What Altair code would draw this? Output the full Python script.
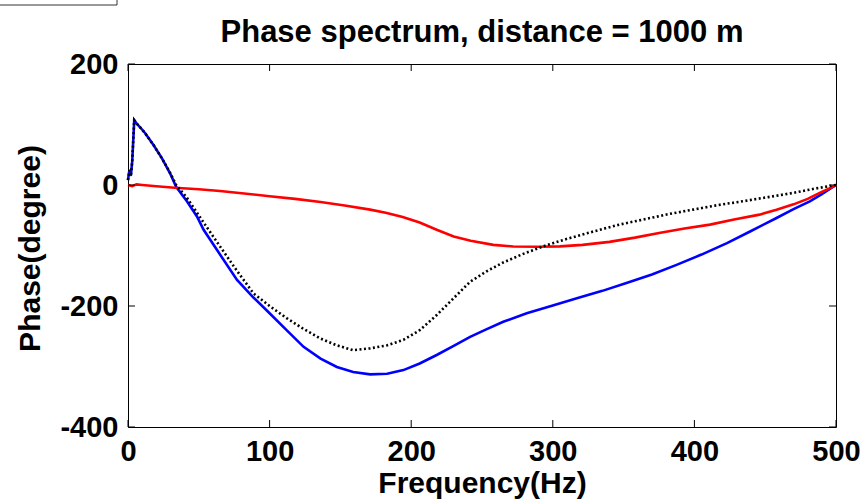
import altair as alt
import pandas as pd

# ---- data ----
freq_blue = [0, 1, 2, 3, 4.4, 6, 8.7, 12, 18, 24, 30, 34, 41.6, 48.7, 53.4, 65, 77, 88.6,
             100, 112, 124, 136, 147.5, 159, 171, 183, 194.5, 206, 218, 230, 241.6, 253,
             265, 281.6, 300, 317, 335, 352, 370, 387.4, 405, 423, 440, 458, 470, 481.5,
             490, 500]
phase_blue = [8, 25, 15, 40, 107, 102, 95, 86, 66, 44, 18, -3, -27, -52, -74, -115, -157, -186,
              -212, -240, -267.5, -287, -300.7, -309, -313, -312, -306, -295, -281, -266, -251, -238.7,
              -226, -212, -199, -187, -175, -162, -148, -132, -115, -96, -76, -54.5, -40, -27,
              -15, 0]

freq_black = [0, 1, 2, 3, 4.4, 6, 8.7, 12, 18, 24, 30, 34, 41.6, 53.4, 65, 77, 88.6, 100,
              112, 124, 135.7, 147.5, 159, 171, 183, 194.5, 206, 218, 230, 241.6, 253, 265,
              280, 295, 310, 328.5, 346, 364, 382, 399, 417, 434, 452, 470, 485, 500]
phase_black = [8, 25, 15, 40, 107, 102, 95, 86, 66, 44, 19, 0, -21, -62, -101.6, -142, -179, -200,
               -220, -238, -253.6, -265, -273, -270, -265, -256, -240, -215, -187, -160, -143, -128,
               -113, -100, -89, -77, -66, -57, -48, -40.7, -33, -27, -20, -13, -6, 0]

freq_red = [0, 3, 6, 10, 20, 33, 50, 65, 82, 100, 118, 136, 153, 171, 182, 194, 206, 218, 230,
            242, 258, 272, 290, 305, 321, 340, 358, 376, 393, 411, 428, 446, 458, 470, 480,
            488.5, 495, 500]
phase_red = [0, -2, 1, 0, -2, -4.6, -7, -10, -14, -18.6, -23, -28, -34, -40.7, -46, -53, -62, -74, -85,
             -92, -99, -101.6, -102, -101.5, -99, -94, -87, -79, -72, -65.5, -57, -49, -41, -32, -23,
             -13, -6, 0]

x_ticks = [0, 100, 200, 300, 400, 500]
y_ticks = [-400, -200, 0, 200]

title_text = "Phase spectrum, distance = 1000 m"
x_title = "Frequency(Hz)"
y_title = "Phase(degree)"

W, H = 708, 363
FONT = "Liberation Sans"

df_blue = pd.DataFrame({"f": freq_blue, "p": phase_blue})
df_black = pd.DataFrame({"f": freq_black, "p": phase_black})
df_red = pd.DataFrame({"f": freq_red, "p": phase_red})
df_xt = pd.DataFrame({"f": x_ticks})
df_yt = pd.DataFrame({"p": y_ticks})
df_one = pd.DataFrame({"a": [0]})

xscale = alt.Scale(domain=[0, 500], nice=False, zero=False)
yscale = alt.Scale(domain=[-400, 200], nice=False, zero=False)

x_axis = alt.Axis(values=x_ticks, labelFont=FONT, labelFontSize=29, labelFontWeight="bold",
                  labelColor="black", ticks=False, tickSize=0, domain=False, grid=False,
                  labelPadding=10, labelFlush=False, labelOverlap=False,
                  labelExpr="'' + datum.value",
                  title=x_title, titleFont=FONT, titleFontSize=30, titleFontWeight="bold",
                  titleColor="black", titleY=65, titleBaseline="alphabetic")
y_axis = alt.Axis(values=y_ticks, labelFont=FONT, labelFontSize=29, labelFontWeight="bold",
                  labelColor="black", ticks=False, tickSize=0, domain=False, grid=False,
                  labelPadding=10, labelOverlap=False,
                  labelExpr="'' + datum.value",
                  title=y_title, titleFont=FONT, titleFontSize=30, titleFontWeight="bold",
                  titleColor="black", titleX=-89, titleY=184, titleBaseline="alphabetic",
                  titleAngle=270)

X = alt.X("f:Q", scale=xscale, axis=x_axis)
Y = alt.Y("p:Q", scale=yscale, axis=y_axis)

blue = alt.Chart(df_blue).mark_line(color="#0000ff", strokeWidth=2.6).encode(x=X, y=Y, order="f:Q")
red = alt.Chart(df_red).mark_line(color="#ff0000", strokeWidth=2.6).encode(x=X, y=Y, order="f:Q")
black = alt.Chart(df_black).mark_line(color="#000000", strokeWidth=2.6, strokeDash=[2, 2.5]).encode(
    x=X, y=Y, order="f:Q")

tick_len = 7
xt_bottom = alt.Chart(df_xt).mark_rule(color="black", strokeWidth=1).encode(
    x=X, y=alt.value(H), y2=alt.value(H - tick_len))
xt_top = alt.Chart(df_xt).mark_rule(color="black", strokeWidth=1).encode(
    x=X, y=alt.value(0), y2=alt.value(tick_len))
yt_left = alt.Chart(df_yt).mark_rule(color="black", strokeWidth=1).encode(
    y=Y, x=alt.value(0), x2=alt.value(tick_len))
yt_right = alt.Chart(df_yt).mark_rule(color="black", strokeWidth=1).encode(
    y=Y, x=alt.value(W), x2=alt.value(W - tick_len))

# partially visible box in the top-left corner of the figure
box_h = alt.Chart(df_one).mark_rule(color="#333333", strokeWidth=1).encode(
    x=alt.value(-128), x2=alt.value(-11), y=alt.value(-59))
box_v = alt.Chart(df_one).mark_rule(color="#333333", strokeWidth=1).encode(
    x=alt.value(-11), y=alt.value(-64), y2=alt.value(-59))

chart = alt.layer(blue, red, black, xt_bottom, xt_top, yt_left, yt_right, box_h, box_v).properties(
    width=W, height=H,
    title=alt.TitleParams(title_text, font=FONT, fontSize=31, fontWeight="bold", color="black",
                          anchor="middle", offset=-73, baseline="alphabetic", frame="group"),
    padding={"left": 128, "top": 64, "right": 28, "bottom": 74},
    autosize=alt.AutoSizeParams(type="none"),
    background="white",
).configure_view(stroke="black", strokeWidth=1)

chart.save("out.html", embed_options={"renderer": "svg", "actions": False})
